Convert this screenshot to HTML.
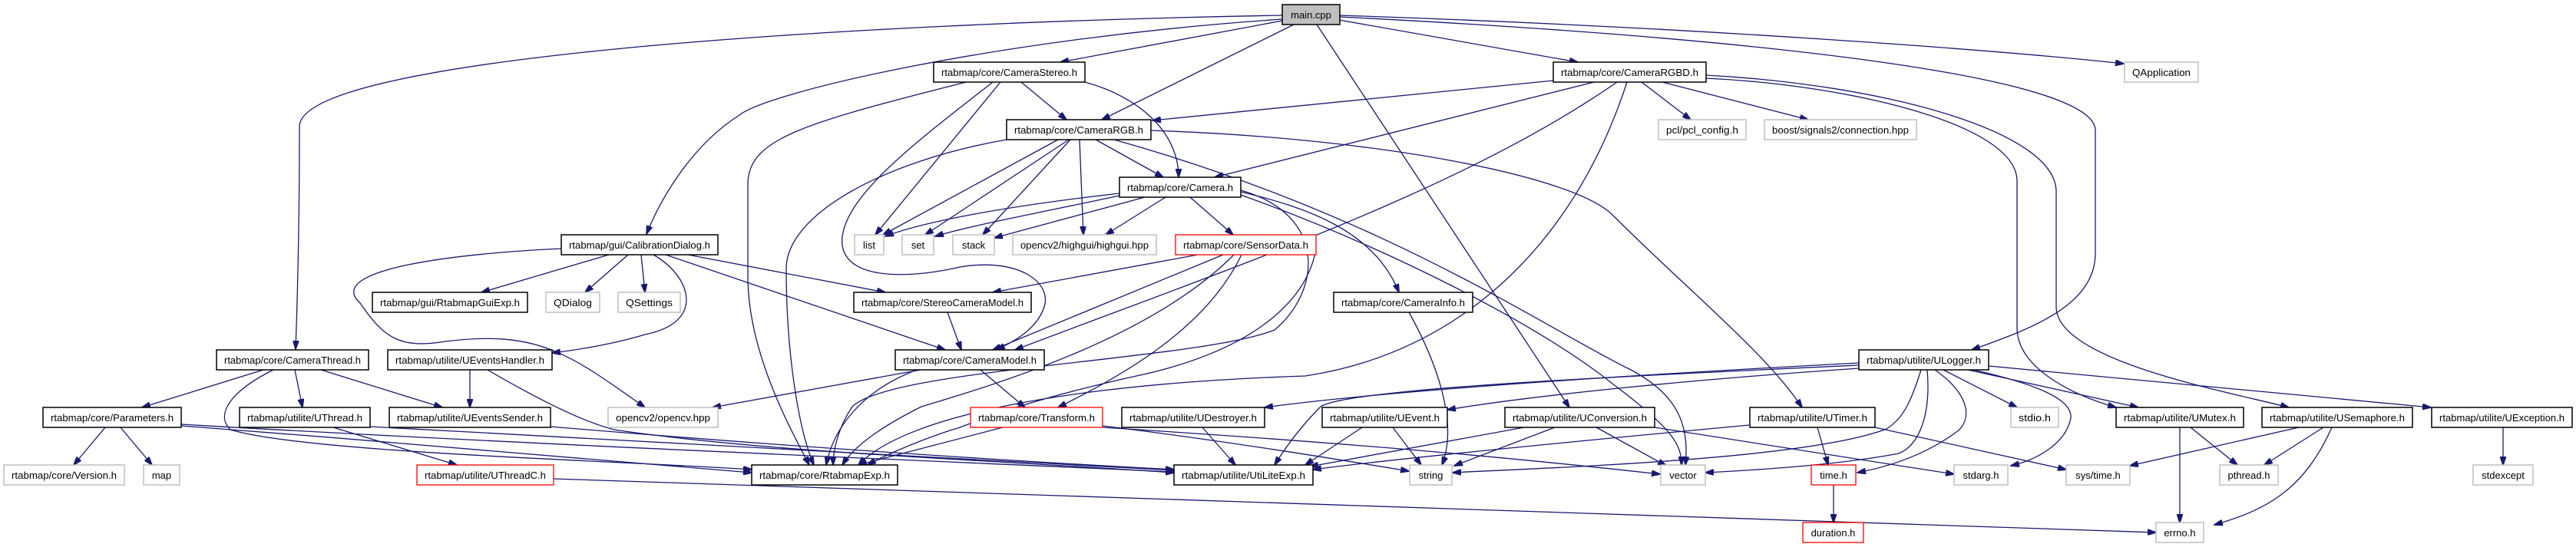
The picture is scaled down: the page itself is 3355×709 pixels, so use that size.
<!DOCTYPE html>
<html><head><meta charset="utf-8"><style>
html,body{margin:0;padding:0;background:#fff;}
svg{display:block;}
text{font-family:"Liberation Sans",Helvetica,sans-serif;font-size:13px;fill:#000;}
.e{fill:none;stroke:#191970;stroke-width:1.3;marker-end:url(#a);}
.n{fill:#fff;stroke:#000;stroke-width:1.5;}
.g{fill:#fff;stroke:#bfbfbf;stroke-width:1.5;}
.r{fill:#fff;stroke:#ff0000;stroke-width:1.3;}
</style></head><body>
<svg width="3355" height="709" viewBox="0 0 3355 709" xmlns="http://www.w3.org/2000/svg">
<defs><marker id="a" markerWidth="12" markerHeight="8" refX="11" refY="4" orient="auto" markerUnits="userSpaceOnUse"><path d="M0,0 L12,4 L0,8 Z" fill="#191970" stroke="#191970"/></marker></defs>
<g>
<!-- main.cpp edges -->
<path class="e" d="M1670,20 C1100,30 390,75 390,165 C390,300 387,400 385,455"/>
<path class="e" d="M1670,25 C1300,50 1000,120 963,150 C900,190 860,260 842,305"/>
<path class="e" d="M1670,27 L1381,81"/>
<path class="e" d="M1685,32 L1435,156"/>
<path class="e" d="M1715,32 L2044,531"/>
<path class="e" d="M1744,26 L2055,81"/>
<path class="e" d="M1745,20 C2200,35 2600,65 2766,83"/>
<path class="e" d="M1745,22 C2300,50 2729,100 2729,170 L2729,330 C2729,400 2640,430 2568,456"/>
<!-- CameraStereo -->
<path class="e" d="M1258,107 C1050,160 974,180 974,240 L974,360 C974,460 1030,560 1054,606"/>
<path class="e" d="M1303,107 L1140,306"/>
<path class="e" d="M1293,107 C1200,180 1090,260 1097,320 C1105,370 1200,360 1250,348 C1330,335 1370,370 1360,400 C1350,430 1320,445 1298,456"/>
<path class="e" d="M1330,107 L1389,156"/>
<path class="e" d="M1413,107 C1480,125 1535,170 1535,231"/>
<!-- CameraRGB -->
<path class="e" d="M1311,182 C1150,210 1024,280 1024,350 C1024,460 1040,560 1060,606"/>
<path class="e" d="M1378,182 L1150,306"/>
<path class="e" d="M1392,182 L1205,306"/>
<path class="e" d="M1394,182 L1280,306"/>
<path class="e" d="M1406,182 L1411,306"/>
<path class="e" d="M1427,182 L1515,231"/>
<path class="e" d="M1451,182 C1800,280 2000,420 2120,480 C2190,515 2200,560 2195,606"/>
<path class="e" d="M1499,170 C1800,180 2050,230 2100,280 C2200,380 2300,460 2347,531"/>
<!-- Camera -->
<path class="e" d="M1458,252 C1300,270 1200,290 1153,308"/>
<path class="e" d="M1458,255 C1340,280 1260,295 1218,308"/>
<path class="e" d="M1491,257 L1295,310"/>
<path class="e" d="M1518,257 L1440,306"/>
<path class="e" d="M1550,257 L1606,306"/>
<path class="e" d="M1616,250 C1700,270 1790,300 1822,381"/>
<path class="e" d="M1616,254 C1800,320 2000,420 2100,500 C2180,560 2190,580 2190,606"/>
<path class="e" d="M1616,248 C1730,280 1720,380 1660,430 C1560,470 1160,480 1110,530 C1090,560 1085,590 1085,606"/>
<!-- SensorData -->
<path class="e" d="M1560,332 L1293,381"/>
<path class="e" d="M1593,332 L1293,456"/>
<path class="e" d="M1617,332 C1570,430 1460,490 1378,531"/>
<path class="e" d="M1607,332 C1500,440 1300,500 1200,530 C1140,560 1110,585 1097,606"/>
<path class="e" d="M1714,325 C1700,400 1620,460 1480,490 C1300,530 1250,560 1240,560 C1180,580 1140,600 1130,606"/>
<!-- CameraRGBD -->
<path class="e" d="M2023,105 L1501,157"/>
<path class="e" d="M2076,107 L1582,231"/>
<path class="e" d="M2106,107 C1900,250 1600,350 1322,456"/>
<path class="e" d="M2119,107 C2050,320 1900,460 1700,490 C1400,500 1180,540 1118,606"/>
<path class="e" d="M2138,107 L2202,156"/>
<path class="e" d="M2165,107 L2355,156"/>
<path class="e" d="M2222,102 C2400,110 2627,160 2627,236 L2627,427 C2627,480 2700,515 2756,531"/>
<path class="e" d="M2222,98 C2450,110 2678,170 2678,250 L2678,400 C2678,470 2900,510 2981,531"/>
<!-- CalibrationDialog -->
<path class="e" d="M793,332 L627,381"/>
<path class="e" d="M818,332 L762,381"/>
<path class="e" d="M835,332 L840,381"/>
<path class="e" d="M731,324 C600,330 420,350 469,395 C500,440 520,455 580,445 C700,430 740,460 840,531"/>
<path class="e" d="M851,332 C900,360 920,420 840,436 C800,448 760,455 719,460"/>
<path class="e" d="M896,332 L1153,381"/>
<path class="e" d="M867,332 L1231,456"/>
<!-- StereoCameraModel / CameraModel -->
<path class="e" d="M1234,407 L1252,456"/>
<path class="e" d="M1199,482 L928,531"/>
<path class="e" d="M1194,482 C1120,510 1085,560 1076,606"/>
<path class="e" d="M1277,482 L1335,531"/>
<!-- Transform -->
<path class="e" d="M1306,557 L1118,606"/>
<path class="e" d="M1436,557 C1800,580 2000,600 2162,618"/>
<path class="e" d="M1436,555 C1600,575 1750,600 1835,614"/>
<path class="e" d="M1566,557 L1609,606"/>
<!-- CameraThread -->
<path class="e" d="M343,482 L185,531"/>
<path class="e" d="M384,482 L394,531"/>
<path class="e" d="M418,482 L576,531"/>
<path class="e" d="M356,482 C300,510 280,540 300,560 C400,590 800,600 979,612"/>
<path class="e" d="M612,482 L612,531"/>
<path class="e" d="M635,482 C700,520 760,550 800,560 C1000,590 1300,600 1529,616"/>
<!-- Parameters etc -->
<path class="e" d="M137,557 L96,606"/>
<path class="e" d="M157,557 L198,606"/>
<path class="e" d="M236,555 C500,575 800,600 979,616"/>
<path class="e" d="M236,553 C700,580 1200,600 1529,615"/>
<path class="e" d="M434,557 L595,606"/>
<path class="e" d="M482,556 C900,580 1300,600 1529,613"/>
<path class="e" d="M717,556 C1000,580 1300,600 1529,612"/>
<path class="e" d="M721,624 C1200,640 2400,680 2808,694"/>
<!-- ULogger -->
<path class="e" d="M2421,473 C2100,490 1800,510 1647,531"/>
<path class="e" d="M2421,480 C2200,495 2000,515 1885,534"/>
<path class="e" d="M2421,476 C2000,495 1750,510 1720,530 C1690,560 1670,590 1660,606"/>
<path class="e" d="M2502,482 C2490,520 2480,545 2457,559 C2350,600 2000,610 1892,616"/>
<path class="e" d="M2510,482 C2515,540 2500,580 2473,591 C2400,605 2300,612 2221,616"/>
<path class="e" d="M2520,482 C2560,510 2570,540 2552,560 C2500,600 2440,612 2419,616"/>
<path class="e" d="M2531,482 L2627,531"/>
<path class="e" d="M2563,482 L2785,531"/>
<path class="e" d="M2570,482 C2650,500 2700,520 2697,545 C2690,580 2650,600 2619,607"/>
<path class="e" d="M2590,477 L3166,531"/>
<!-- UEvent / UConversion / UTimer -->
<path class="e" d="M1774,557 L1700,606"/>
<path class="e" d="M1814,557 L1851,606"/>
<path class="e" d="M1985,557 L1706,608"/>
<path class="e" d="M2025,557 L1894,607"/>
<path class="e" d="M2079,557 L2170,607"/>
<path class="e" d="M2155,557 L2545,618"/>
<path class="e" d="M2278,554 C2000,580 1800,600 1710,612"/>
<path class="e" d="M2367,557 L2381,606"/>
<path class="e" d="M2442,557 L2691,612"/>
<path class="e" d="M2388,632 L2388,681"/>
<path class="e" d="M1835,407 C1870,470 1900,550 1878,606"/>
<!-- UMutex / USemaphore / UException -->
<path class="e" d="M2839,557 L2839,681"/>
<path class="e" d="M2853,557 L2914,606"/>
<path class="e" d="M2994,557 L2774,607"/>
<path class="e" d="M3026,557 L2949,606"/>
<path class="e" d="M3037,557 C3000,640 2950,665 2884,684"/>
<path class="e" d="M3260,557 L3260,606"/>
</g>
<g>
<rect x="1670" y="6" width="75" height="26" fill="#bfbfbf" stroke="#000" stroke-width="1.5"/><text x="1707.5" y="24" text-anchor="middle">main.cpp</text>
<rect class="n" x="1216" y="81" width="197" height="26"/><text x="1314.5" y="99" text-anchor="middle" textLength="177" lengthAdjust="spacingAndGlyphs">rtabmap/core/CameraStereo.h</text>
<rect class="n" x="2023" y="81" width="199" height="26"/><text x="2122.5" y="99" text-anchor="middle" textLength="179" lengthAdjust="spacingAndGlyphs">rtabmap/core/CameraRGBD.h</text>
<rect class="g" x="2767" y="81" width="96" height="26"/><text x="2815" y="99" text-anchor="middle" textLength="76" lengthAdjust="spacingAndGlyphs">QApplication</text>
<rect class="n" x="1311" y="156" width="188" height="26"/><text x="1405" y="174" text-anchor="middle" textLength="168" lengthAdjust="spacingAndGlyphs">rtabmap/core/CameraRGB.h</text>
<rect class="g" x="2160" y="156" width="114" height="26"/><text x="2217" y="174" text-anchor="middle" textLength="94" lengthAdjust="spacingAndGlyphs">pcl/pcl_config.h</text>
<rect class="g" x="2298" y="156" width="198" height="26"/><text x="2397" y="174" text-anchor="middle" textLength="178" lengthAdjust="spacingAndGlyphs">boost/signals2/connection.hpp</text>
<rect class="n" x="1458" y="231" width="158" height="26"/><text x="1537" y="249" text-anchor="middle" textLength="138" lengthAdjust="spacingAndGlyphs">rtabmap/core/Camera.h</text>
<rect class="g" x="1113" y="306" width="38" height="26"/><text x="1132" y="324" text-anchor="middle">list</text>
<rect class="g" x="1175" y="306" width="41" height="26"/><text x="1195.5" y="324" text-anchor="middle">set</text>
<rect class="g" x="1241" y="306" width="54" height="26"/><text x="1268" y="324" text-anchor="middle">stack</text>
<rect class="g" x="1319" y="306" width="187" height="26"/><text x="1412.5" y="324" text-anchor="middle" textLength="167" lengthAdjust="spacingAndGlyphs">opencv2/highgui/highgui.hpp</text>
<rect class="r" x="1531" y="306" width="183" height="26"/><text x="1622.5" y="324" text-anchor="middle" textLength="163" lengthAdjust="spacingAndGlyphs">rtabmap/core/SensorData.h</text>
<rect class="n" x="731" y="306" width="204" height="26"/><text x="833" y="324" text-anchor="middle" textLength="184" lengthAdjust="spacingAndGlyphs">rtabmap/gui/CalibrationDialog.h</text>
<rect class="n" x="485" y="381" width="202" height="26"/><text x="586" y="399" text-anchor="middle" textLength="182" lengthAdjust="spacingAndGlyphs">rtabmap/gui/RtabmapGuiExp.h</text>
<rect class="g" x="711" y="381" width="70" height="26"/><text x="746" y="399" text-anchor="middle" textLength="50" lengthAdjust="spacingAndGlyphs">QDialog</text>
<rect class="g" x="805" y="381" width="81" height="26"/><text x="845.5" y="399" text-anchor="middle" textLength="61" lengthAdjust="spacingAndGlyphs">QSettings</text>
<rect class="n" x="1112" y="381" width="231" height="26"/><text x="1227.5" y="399" text-anchor="middle" textLength="211" lengthAdjust="spacingAndGlyphs">rtabmap/core/StereoCameraModel.h</text>
<rect class="n" x="1737" y="381" width="181" height="26"/><text x="1827.5" y="399" text-anchor="middle" textLength="161" lengthAdjust="spacingAndGlyphs">rtabmap/core/CameraInfo.h</text>
<rect class="n" x="282" y="456" width="198" height="26"/><text x="381" y="474" text-anchor="middle" textLength="178" lengthAdjust="spacingAndGlyphs">rtabmap/core/CameraThread.h</text>
<rect class="n" x="505" y="456" width="214" height="26"/><text x="612" y="474" text-anchor="middle" textLength="194" lengthAdjust="spacingAndGlyphs">rtabmap/utilite/UEventsHandler.h</text>
<rect class="n" x="1166" y="456" width="194" height="26"/><text x="1263" y="474" text-anchor="middle" textLength="174" lengthAdjust="spacingAndGlyphs">rtabmap/core/CameraModel.h</text>
<rect class="n" x="2421" y="456" width="169" height="26"/><text x="2505.5" y="474" text-anchor="middle" textLength="149" lengthAdjust="spacingAndGlyphs">rtabmap/utilite/ULogger.h</text>
<rect class="n" x="56" y="531" width="180" height="26"/><text x="146" y="549" text-anchor="middle" textLength="160" lengthAdjust="spacingAndGlyphs">rtabmap/core/Parameters.h</text>
<rect class="n" x="312" y="531" width="170" height="26"/><text x="397" y="549" text-anchor="middle" textLength="150" lengthAdjust="spacingAndGlyphs">rtabmap/utilite/UThread.h</text>
<rect class="n" x="507" y="531" width="210" height="26"/><text x="612" y="549" text-anchor="middle" textLength="190" lengthAdjust="spacingAndGlyphs">rtabmap/utilite/UEventsSender.h</text>
<rect class="g" x="792" y="531" width="143" height="26"/><text x="863.5" y="549" text-anchor="middle" textLength="123" lengthAdjust="spacingAndGlyphs">opencv2/opencv.hpp</text>
<rect class="r" x="1264" y="531" width="172" height="26"/><text x="1350" y="549" text-anchor="middle" textLength="152" lengthAdjust="spacingAndGlyphs">rtabmap/core/Transform.h</text>
<rect class="n" x="1461" y="531" width="186" height="26"/><text x="1554" y="549" text-anchor="middle" textLength="166" lengthAdjust="spacingAndGlyphs">rtabmap/utilite/UDestroyer.h</text>
<rect class="n" x="1722" y="531" width="163" height="26"/><text x="1803.5" y="549" text-anchor="middle" textLength="143" lengthAdjust="spacingAndGlyphs">rtabmap/utilite/UEvent.h</text>
<rect class="n" x="1960" y="531" width="195" height="26"/><text x="2057.5" y="549" text-anchor="middle" textLength="175" lengthAdjust="spacingAndGlyphs">rtabmap/utilite/UConversion.h</text>
<rect class="n" x="2279" y="531" width="163" height="26"/><text x="2360.5" y="549" text-anchor="middle" textLength="143" lengthAdjust="spacingAndGlyphs">rtabmap/utilite/UTimer.h</text>
<rect class="g" x="2619" y="531" width="62" height="26"/><text x="2650" y="549" text-anchor="middle" textLength="42" lengthAdjust="spacingAndGlyphs">stdio.h</text>
<rect class="n" x="2756" y="531" width="166" height="26"/><text x="2839" y="549" text-anchor="middle" textLength="146" lengthAdjust="spacingAndGlyphs">rtabmap/utilite/UMutex.h</text>
<rect class="n" x="2946" y="531" width="196" height="26"/><text x="3044" y="549" text-anchor="middle" textLength="176" lengthAdjust="spacingAndGlyphs">rtabmap/utilite/USemaphore.h</text>
<rect class="n" x="3167" y="531" width="183" height="26"/><text x="3258.5" y="549" text-anchor="middle" textLength="163" lengthAdjust="spacingAndGlyphs">rtabmap/utilite/UException.h</text>
<rect class="g" x="5" y="606" width="157" height="26"/><text x="83.5" y="624" text-anchor="middle" textLength="137" lengthAdjust="spacingAndGlyphs">rtabmap/core/Version.h</text>
<rect class="g" x="187" y="606" width="47" height="26"/><text x="210.5" y="624" text-anchor="middle">map</text>
<rect class="r" x="543" y="606" width="178" height="26"/><text x="632" y="624" text-anchor="middle" textLength="158" lengthAdjust="spacingAndGlyphs">rtabmap/utilite/UThreadC.h</text>
<rect class="n" x="979" y="606" width="190" height="26"/><text x="1074" y="624" text-anchor="middle" textLength="170" lengthAdjust="spacingAndGlyphs">rtabmap/core/RtabmapExp.h</text>
<rect class="n" x="1529" y="606" width="181" height="26"/><text x="1619.5" y="624" text-anchor="middle" textLength="161" lengthAdjust="spacingAndGlyphs">rtabmap/utilite/UtiLiteExp.h</text>
<rect class="g" x="1836" y="606" width="55" height="26"/><text x="1863.5" y="624" text-anchor="middle">string</text>
<rect class="g" x="2163" y="606" width="58" height="26"/><text x="2192" y="624" text-anchor="middle">vector</text>
<rect class="r" x="2359" y="606" width="58" height="26"/><text x="2388" y="624" text-anchor="middle">time.h</text>
<rect class="g" x="2545" y="606" width="70" height="26"/><text x="2580" y="624" text-anchor="middle">stdarg.h</text>
<rect class="g" x="2691" y="606" width="83" height="26"/><text x="2732.5" y="624" text-anchor="middle">sys/time.h</text>
<rect class="g" x="2891" y="606" width="76" height="26"/><text x="2929" y="624" text-anchor="middle">pthread.h</text>
<rect class="g" x="3221" y="606" width="78" height="26"/><text x="3260" y="624" text-anchor="middle">stdexcept</text>
<rect class="r" x="2348" y="681" width="79" height="26"/><text x="2387.5" y="699" text-anchor="middle">duration.h</text>
<rect class="g" x="2808" y="681" width="62" height="26"/><text x="2839" y="699" text-anchor="middle">errno.h</text>
</g>
</svg>
</body></html>
